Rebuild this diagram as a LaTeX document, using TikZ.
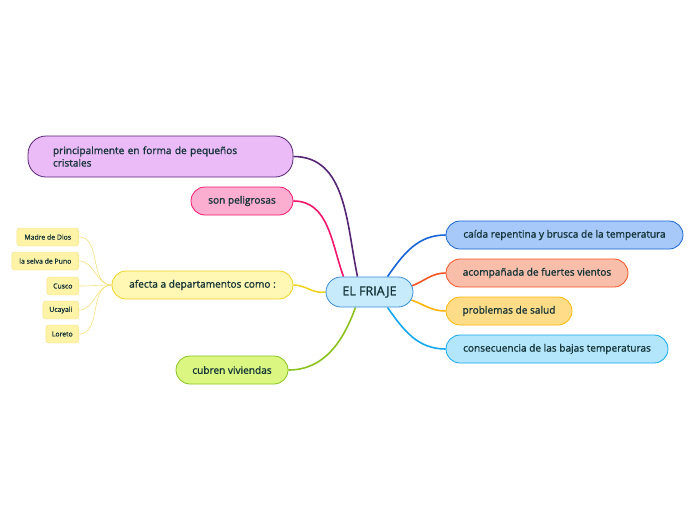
\documentclass[tikz,border=0pt]{standalone}
\usepackage{fontspec}
\setmainfont{Open Sans}[RawFeature={embolden=1.2}]
\usetikzlibrary{positioning, calc, backgrounds}
\definecolor{txtcol}{RGB}{20, 52, 56}
\definecolor{rootfill}{RGB}{199, 235, 251}
\definecolor{rootdraw}{RGB}{56, 140, 214}
\definecolor{caidafill}{RGB}{167, 201, 250}
\definecolor{caidadraw}{RGB}{22, 100, 214}
\definecolor{vientofill}{RGB}{248, 190, 170}
\definecolor{vientodraw}{RGB}{244, 84, 34}
\definecolor{saludfill}{RGB}{255, 221, 136}
\definecolor{saluddraw}{RGB}{255, 180, 10}
\definecolor{consecfill}{RGB}{180, 230, 251}
\definecolor{consecdraw}{RGB}{18, 167, 238}
\definecolor{cristfill}{RGB}{235, 187, 248}
\definecolor{cristdraw}{RGB}{86, 36, 116}
\definecolor{peligfill}{RGB}{252, 174, 208}
\definecolor{peligdraw}{RGB}{242, 22, 108}
\definecolor{afectafill}{RGB}{255, 247, 179}
\definecolor{afectadraw}{RGB}{239, 212, 36}
\definecolor{cubrenfill}{RGB}{219, 247, 129}
\definecolor{cubrendraw}{RGB}{139, 194, 30}
\definecolor{depfill}{RGB}{255, 243, 168}
\definecolor{depdraw}{RGB}{247, 224, 125}

\begin{document}
\begin{tikzpicture}[
    x=1pt, y=1pt,
    font=\fontsize{10.1}{12.5}\selectfont,
    % estilos de los nodos
    rootnode/.style={draw=rootdraw, fill=rootfill, thick, rounded corners=15pt, minimum height=30pt, inner xsep=0pt, text=txtcol, font=\fontsize{12.5}{15}\selectfont},
    topic/.style={thick, rounded corners=14pt, minimum height=28pt, inner xsep=0pt, text=txtcol},
    depto/.style={draw=depdraw, fill=depfill, rounded corners=3pt, minimum height=18pt, inner xsep=0pt, anchor=east, text=txtcol, font=\fontsize{6.9}{8}\selectfont},
    branch/.style={line width=1.6pt},
    twig/.style={draw=depdraw, line width=0.6pt}
]

\useasboundingbox (0,0) rectangle (696,-520);

% ==========================================
% 1. nodo central
% ==========================================
\node[rootnode, minimum width=87pt] (root) at (369.5,-292) {EL FRIAJE};

% ==========================================
% 2. ramas derecha
% ==========================================
\node[topic, draw=caidadraw, fill=caidafill, minimum width=237pt] (caida) at (564.5,-235) {caída repentina y brusca de la temperatura};
\node[topic, draw=vientodraw, fill=vientofill, minimum width=182pt] (viento) at (537,-273) {acompañada de fuertes vientos};
\node[topic, draw=saluddraw, fill=saludfill, minimum width=126pt] (salud) at (509,-311) {problemas de salud};
\node[topic, draw=consecdraw, fill=consecfill, minimum width=222pt] (consec) at (557,-349) {consecuencia de las bajas temperaturas};

% ==========================================
% 3. ramas izquierda
% ==========================================
\node[topic, draw=cristdraw, fill=cristfill, minimum height=41pt, rounded corners=18pt, inner xsep=25pt, text width=215pt, align=left] (crist) at (160.5,-156.5) {principalmente en forma de pequeños\\cristales};
\node[topic, draw=peligdraw, fill=peligfill, minimum width=102pt] (pelig) at (242,-201) {son peligrosas};
\node[topic, draw=afectadraw, fill=afectafill, minimum width=181pt] (afecta) at (202.5,-285) {afecta a departamentos como :};
\node[topic, draw=cubrendraw, fill=cubrenfill, minimum width=112pt] (cubren) at (232,-370) {cubren viviendas};

% departamentos
\node[depto, minimum width=62pt] (madre) at (79,-237) {Madre de Dios};
\node[depto, minimum width=67pt] (puno) at (79,-261) {la selva de Puno};
\node[depto, minimum width=32pt] (cusco) at (79,-286) {Cusco};
\node[depto, minimum width=36pt] (ucayali) at (79,-310) {Ucayali};
\node[depto, minimum width=33pt] (loreto) at (79,-334) {Loreto};

% ==========================================
% 4. conectores
% ==========================================
\begin{scope}[on background layer]
    \draw[branch, draw=caidadraw] ($(root.north)+(18,0)$) to[out=55, in=180] (caida.west);
    \draw[branch, draw=vientodraw] ($(root.east)+(-2,6)$) to[out=20, in=180] (viento.west);
    \draw[branch, draw=saluddraw] ($(root.east)+(-2,-8)$) to[out=-20, in=180] (salud.west);
    \draw[branch, draw=consecdraw] ($(root.south)+(18,0)$) to[out=-55, in=180] (consec.west);

    \draw[branch, draw=cristdraw] ($(root.north)+(-12,0)$) to[out=102, in=0] (crist.east);
    \draw[branch, draw=peligdraw] ($(root.north)+(-26,0)$) to[out=110, in=0] (pelig.east);
    \draw[branch, draw=afectadraw] (root.west) to[out=190, in=0] (afecta.east);
    \draw[branch, draw=cubrendraw] ($(root.south)+(-14,0)$) to[out=-110, in=0] (cubren.east);

    \foreach \d in {madre, puno, cusco, ucayali, loreto}
        \draw[twig] (afecta.west) to[out=180, in=0] (\d.east);
\end{scope}

\end{tikzpicture}
\end{document}
